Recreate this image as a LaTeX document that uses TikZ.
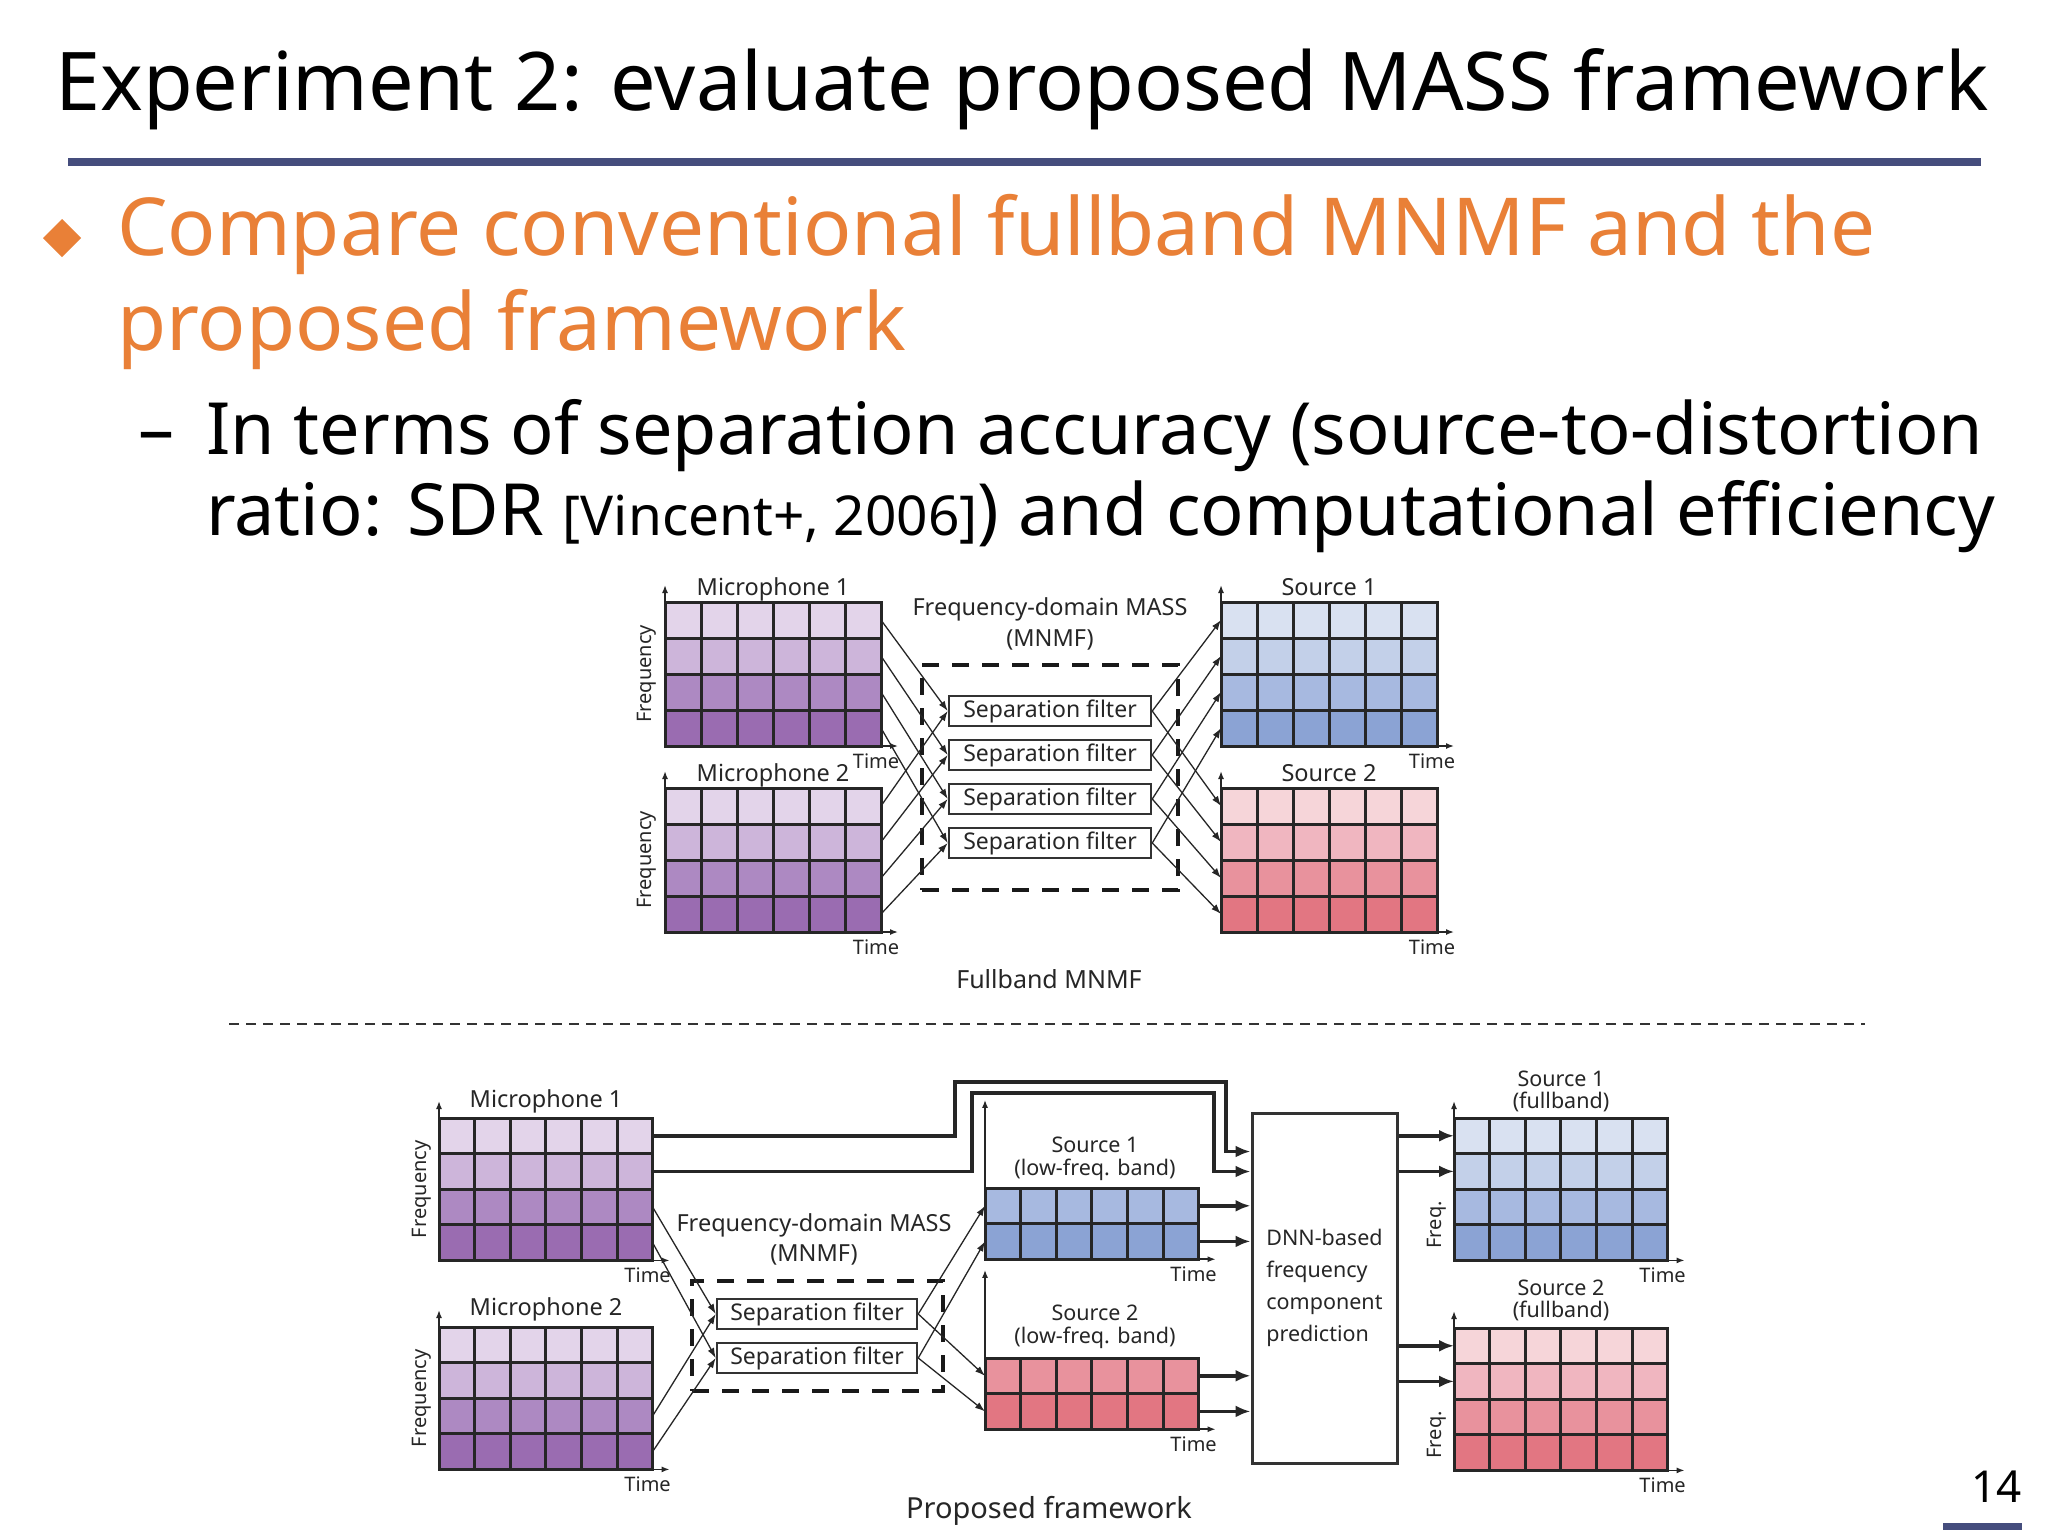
\documentclass[tikz,border=0pt]{standalone}
\usepackage{fontspec}
\setmainfont{Noto Sans}
\usetikzlibrary{arrows.meta,calc}

\definecolor{slideblue}{RGB}{69,77,125}
\definecolor{slideorange}{RGB}{233,128,55}
% culori pe randuri (sus = frecvente inalte, deschis)
\definecolor{pA}{HTML}{E3D4EA}\definecolor{pB}{HTML}{CDB5DA}
\definecolor{pC}{HTML}{AD89C2}\definecolor{pD}{HTML}{9A6CB1}
\definecolor{bA}{HTML}{D9E1F1}\definecolor{bB}{HTML}{C3D0E9}
\definecolor{bC}{HTML}{A7B9E0}\definecolor{bD}{HTML}{8BA3D4}
\definecolor{rA}{HTML}{F6D5D9}\definecolor{rB}{HTML}{F0B6C0}
\definecolor{rC}{HTML}{E8929D}\definecolor{rD}{HTML}{E27682}

\begin{document}
\begin{tikzpicture}[
  x=1pt, y=-1pt,
  font=\fontsize{23}{28}\selectfont,
  ttl/.style={inner sep=0pt,anchor=base west,font=\fontsize{81}{97}\selectfont},
  lvl1/.style={inner sep=0pt,anchor=base west,text=slideorange,font=\fontsize{80}{96}\selectfont},
  lvl2/.style={inner sep=0pt,anchor=base west,font=\fontsize{72}{86}\selectfont},
  cellln/.style={line width=3pt,black!85,line cap=rect},
  ax/.style={-{Latex[length=8pt,width=6pt]},line width=1.5pt,black!85},
  lnk/.style={-{Latex[length=10pt,width=7pt]},line width=1.3pt,black!85},
  heavy/.style={-{Latex[length=15pt,width=12pt]},line width=3.5pt,black!85},
  filt/.style={draw=black!80,line width=2.5pt,fill=white,minimum width=202pt,
    minimum height=30pt,inner sep=0pt,text=black!85},
  massbox/.style={draw=black!90,line width=4.5pt,dash pattern=on 17pt off 13pt},
  dnnbox/.style={draw=black!80,line width=3pt,minimum width=145pt,minimum height=350pt,
    align=left,text=black!85,font=\fontsize{21.5}{32}\selectfont},
  lab/.style={inner sep=0pt,anchor=base,font=\fontsize{23.5}{28}\selectfont,text=black!85},
  lab2/.style={lab,font=\fontsize{21.5}{26}\selectfont},
  axlab/.style={inner sep=0pt,font=\fontsize{20}{24}\selectfont,text=black!85},
  capt/.style={inner sep=0pt,anchor=base,text=black!85}
]

\fill[white] (0,0) rectangle (2048,1536);
\useasboundingbox (0,0) rectangle (2048,1536);

% --- macro: spectrograma cu 6 coloane ---
% #1 = nume, #2 = x stanga, #3 = y sus, #4 = nr. randuri, #5 = culori randuri
\newcommand{\tfgrid}[5]{
  \foreach \col [count=\row] in {#5}{
    \fill[\col] (#2,{#3+(\row-1)*\cell}) rectangle ++(6*\cell,\cell);
    \coordinate (#1-w\row) at (#2,{#3+(\row-0.5)*\cell});
    \coordinate (#1-e\row) at ({#2+6*\cell},{#3+(\row-0.5)*\cell});
  }
  \coordinate (#1-sw) at (#2,{#3+#4*\cell});
  \foreach \i in {0,...,6}
    \draw[cellln] ({#2+\i*\cell},#3) -- ++(0,#4*\cell);
  \foreach \j in {0,...,#4}
    \draw[cellln] (#2,{#3+\j*\cell}) -- ++(6*\cell,0);
  \draw[ax] (#1-sw) -- ++(0,{-4*\cell-17});            % axa frecventa
  \draw[ax] (#1-sw) -- ++({6*\cell+17},0);             % axa timp
  \node[axlab,anchor=base] (#1-t) at ($(#1-sw)+({6*\cell-5},22)$) {Time};
}

% --- titlu si text ---
\node[ttl] (title) at (55,111) {Experiment 2: evaluate proposed MASS framework};
\draw[slideblue,line width=7pt] (68,162) -- (1981,162);
\fill[slideorange] (62,219) -- (81,238) -- (62,257) -- (43,238) -- cycle;
\node[lvl1] (pt1) at (117,255) {Compare conventional fullband MNMF and the};
\node[lvl1] (pt1b) at (117,350) {proposed framework};
\node[lvl2] (dash) at (138,454) {–};
\node[lvl2] (pt2) at (206,454) {In terms of separation accuracy (source-to-distortion};
\node[lvl2] (pt2b) at (206,535)
  {ratio: SDR {\fontsize{55}{66}\selectfont [Vincent+, 2006]}) and computational efficiency};

% --- fullband MNMF (sus) ---
\def\cell{36}
\tfgrid{mic1}{665}{602}{4}{pA,pB,pC,pD}
\tfgrid{mic2}{665}{788}{4}{pA,pB,pC,pD}
\tfgrid{src1}{1221}{602}{4}{bA,bB,bC,bD}
\tfgrid{src2}{1221}{788}{4}{rA,rB,rC,rD}

\node[lab] (mic1-lab) at (773,595) {Microphone 1};
\node[lab] (mic2-lab) at (773,781) {Microphone 2};
\node[lab] (src1-lab) at (1329,595) {Source 1};
\node[lab] (src2-lab) at (1329,781) {Source 2};
\node[axlab,rotate=90] (mic1-f) at ($(mic1-sw)+(-18,-2*\cell)$) {Frequency};
\node[axlab,rotate=90] (mic2-f) at ($(mic2-sw)+(-18,-2*\cell)$) {Frequency};

\node[massbox,minimum width=256pt,minimum height=225pt] (mass) at (1050,777.5) {};
\node[lab] (mass-t) at (1050,615) {Frequency-domain MASS};
\node[lab] (mass-s) at (1050,646) {(MNMF)};
\foreach \k in {1,...,4}
  \node[filt] (sf\k) at (1050,{711+44*(\k-1)}) {Separation filter};

\foreach \k in {1,...,4}{
  \draw[lnk] (mic1-e\k) -- (sf\k.west);
  \draw[lnk] (mic2-e\k) -- (sf\k.west);
  \draw[lnk] (sf\k.east) -- (src1-w\k);
  \draw[lnk] (sf\k.east) -- (src2-w\k);
}
\node[capt,font=\fontsize{25}{30}\selectfont] (capA) at (1049,988) {Fullband MNMF};

% separator
\draw[black!80,line width=2pt,dash pattern=on 10pt off 7pt] (229,1024) -- (1865,1024);

% --- framework propus (jos) ---
\def\cell{35.6}
\tfgrid{mic1b}{439}{1118}{4}{pA,pB,pC,pD}
\tfgrid{mic2b}{439}{1327}{4}{pA,pB,pC,pD}
\tfgrid{lo1}{985}{1188}{2}{bC,bD}
\tfgrid{lo2}{985}{1358}{2}{rC,rD}
\tfgrid{full1}{1454}{1118}{4}{bA,bB,bC,bD}
\tfgrid{full2}{1454}{1328}{4}{rA,rB,rC,rD}

\node[lab] (mic1b-lab) at (546,1107) {Microphone 1};
\node[lab] (mic2b-lab) at (546,1315) {Microphone 2};
\node[axlab,rotate=90] (mic1b-f) at ($(mic1b-sw)+(-17,-2*\cell)$) {Frequency};
\node[axlab,rotate=90] (mic2b-f) at ($(mic2b-sw)+(-17,-2*\cell)$) {Frequency};
\node[lab2] (lo1-lab) at (1095,1152) {Source 1};
\node[lab2] (lo1-sub) at (1095,1175) {(low-freq. band)};
\node[lab2] (lo2-lab) at (1095,1320) {Source 2};
\node[lab2] (lo2-sub) at (1095,1343) {(low-freq. band)};
\node[lab2] (full1-lab) at (1561,1086) {Source 1};
\node[lab2] (full1-sub) at (1561,1108) {(fullband)};
\node[lab2] (full2-lab) at (1561,1295) {Source 2};
\node[lab2] (full2-sub) at (1561,1317) {(fullband)};
\node[axlab,rotate=90] (full1-f) at ($(full1-sw)+(-17,-1*\cell)$) {Freq.};
\node[axlab,rotate=90] (full2-f) at ($(full2-sw)+(-17,-1*\cell)$) {Freq.};

\node[massbox,minimum width=251pt,minimum height=110pt] (massb) at (817.5,1336) {};
\node[lab] (massb-t) at (814,1231) {Frequency-domain MASS};
\node[lab] (massb-s) at (814,1261) {(MNMF)};
\node[filt,minimum width=200pt] (sfb1) at (817,1314) {Separation filter};
\node[filt,minimum width=200pt] (sfb2) at (817,1358) {Separation filter};

\node[dnnbox] (dnn) at (1324.5,1288) {DNN-based\\frequency\\component\\prediction};

\foreach \k/\m in {1/3,2/4}{
  \draw[lnk] (mic1b-e\m) -- (sfb\k.west);
  \draw[lnk] (mic2b-e\m) -- (sfb\k.west);
  \draw[lnk] (sfb\k.east) -- (lo1-w\k);
  \draw[lnk] (sfb\k.east) -- (lo2-w\k);
}

% benzile inalte ale microfonului 1 ocolesc MNMF
\draw[heavy] (mic1b-e1) -| (955,1082) -- (1226,1082) |- ($(dnn.north west)+(0,40)$);
\draw[heavy] (mic1b-e2) -| (972,1093) -- (1214,1093) |- ($(dnn.north west)+(0,60)$);
\foreach \s in {lo1,lo2}
  \foreach \k in {1,2}
    \draw[heavy] (\s-e\k) -- (\s-e\k -| dnn.west);
\foreach \s in {full1,full2}
  \foreach \k in {1,2}
    \draw[heavy] (dnn.east |- \s-w\k) -- (\s-w\k);

\node[capt,font=\fontsize{29}{35}\selectfont] (capB) at (1049,1518) {Proposed framework};

% numar pagina
\node[inner sep=0pt,anchor=base east,font=\fontsize{44}{52}\selectfont] (pnum) at (2022,1502) {14};
\draw[slideblue,line width=7pt] (1943,1526) -- (2022,1526);

\end{tikzpicture}
\end{document}
